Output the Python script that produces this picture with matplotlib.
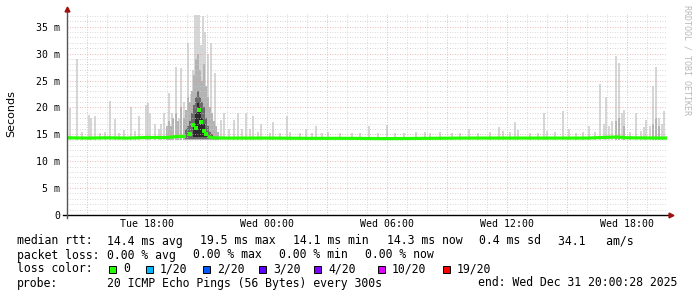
import matplotlib.pyplot as plt
from matplotlib.patches import Rectangle

# time axis: hours after Tue Dec 30 2025 14:00, values in ms
spike_h = [0.15, 0.5, 0.75, 1.1, 1.2, 1.4, 1.65, 1.9, 2.15, 2.4, 2.6, 2.85, 3.2, 3.4, 3.6,
           3.95, 4.05, 4.15, 4.4, 4.6, 4.7, 4.85, 5.1, 5.25, 5.45, 5.6, 5.7, 5.85, 6.05, 6.2,
           6.3, 6.4, 6.5, 6.6, 6.7, 6.8, 6.9, 7.05, 7.2, 7.4, 7.55, 7.7, 7.85, 8.1, 8.35,
           8.55, 8.75, 8.95, 9.15, 9.3, 9.55, 9.7, 10.15, 10.3, 10.65, 11.0, 11.15, 11.65,
           11.95, 12.25, 12.45, 12.75, 13.05, 13.65, 14.25, 14.65, 15.1, 15.55, 16.0, 16.4,
           16.85, 17.45, 17.9, 18.15, 18.65, 19.25, 19.65, 20.1, 20.55, 21.15, 21.6, 21.8,
           22.15, 22.4, 22.55, 23.15, 23.55, 23.85, 24.0, 24.4, 24.8, 25.1, 25.45, 25.8,
           26.1, 26.4, 26.65, 26.85, 26.95, 27.1, 27.25, 27.45, 27.6, 27.75, 27.85, 28.15,
           28.45, 28.7, 28.85, 28.95, 29.15, 29.3, 29.45, 29.6, 29.75, 29.85]
spike_top = [19.9, 29.0, 15.5, 18.6, 18.0, 18.4, 15.3, 15.5, 21.2, 17.8, 15.2, 15.8, 20.1, 15.6, 18.4,
             20.5, 20.8, 19.0, 17.0, 16.0, 17.0, 19.0, 22.7, 19.0, 27.5, 18.0, 27.3, 21.0, 32.0, 22.5,
             27.0, 37.2, 37.2, 37.2, 31.6, 37.0, 34.0, 30.0, 32.0, 26.4, 15.5, 17.6, 19.0, 16.0, 17.6,
             19.0, 16.0, 19.0, 16.0, 18.4, 15.5, 17.0, 15.3, 17.3, 15.2, 18.4, 15.5, 15.2,
             16.0, 15.2, 16.5, 15.3, 15.5, 15.2, 15.2, 15.3, 16.6, 15.2, 16.7, 15.3,
             15.2, 15.4, 15.5, 15.3, 15.4, 15.2, 15.2, 15.9, 15.3, 15.4, 16.4, 15.6,
             15.4, 17.2, 15.8, 15.3, 15.3, 18.9, 15.6, 15.4, 19.4, 16.0, 15.3, 15.4,
             16.6, 15.5, 24.3, 17.0, 22.0, 16.5, 17.5, 29.5, 28.2, 19.0, 19.5, 15.5,
             19.0, 15.6, 16.4, 17.7, 16.5, 24.0, 27.5, 18.0, 17.0, 19.4]

mid_h = [5.0, 5.1, 5.2, 5.3, 5.45, 5.55, 5.7, 5.85, 5.95, 6.05, 6.15, 6.25, 6.35, 6.45, 6.55,
         6.65, 6.75, 6.85, 6.95, 7.05, 7.15, 7.25, 7.35, 7.45, 7.55,
         27.45, 27.6, 27.85, 29.3, 29.45, 29.6]
mid_top = [16.5, 17.5, 16.5, 18.0, 19.0, 17.5, 20.0, 18.0, 19.5, 22.0, 21.0, 23.0, 26.0, 29.0, 30.0,
           27.0, 25.0, 28.0, 24.0, 22.0, 20.0, 19.0, 17.5, 16.5, 15.5,
           17.5, 18.0, 16.5, 17.0, 18.0, 16.5]

dark_h = [5.95, 6.05, 6.15, 6.25, 6.35, 6.45, 6.55, 6.65, 6.75, 6.85, 6.95, 7.05, 7.15, 7.25]
dark_top = [16.0, 16.5, 17.5, 19.0, 20.5, 22.0, 23.0, 22.0, 21.0, 20.0, 18.0, 16.5, 15.5, 15.0]

core_h = [6.35, 6.45, 6.55, 6.65, 6.75, 6.85, 6.95]
core_top = [17.0, 19.0, 21.0, 20.0, 18.0, 17.0, 15.5]

med_h = [0, 1, 2, 3, 4, 5, 5.5, 5.95, 6.15, 6.3, 6.45, 6.6, 6.7, 6.85, 6.95, 7.05, 7.25,
         8, 10, 12, 14, 16, 18, 20, 22, 24, 26, 27.5, 28, 30]
med_v = [14.35, 14.3, 14.35, 14.3, 14.4, 14.4, 14.6, 14.6, 15.0, 16.7, 16.1, 19.5, 17.2, 15.7, 15.0,
         14.6, 14.35, 14.3, 14.3, 14.25, 14.25, 14.2, 14.25, 14.3, 14.3, 14.3, 14.3, 14.5, 14.35, 14.3]

xlabel_h = [4, 10, 16, 22, 28]
xlabels = ['Tue 18:00', 'Wed 00:00', 'Wed 06:00', 'Wed 12:00', 'Wed 18:00']
ylabel_v = [0, 5, 10, 15, 20, 25, 30, 35]
ylabels = ['0', '5 m', '10 m', '15 m', '20 m', '25 m', '30 m', '35 m']

loss_names = ['0', '1/20', '2/20', '3/20', '4/20', '10/20', '19/20']
loss_colors = ['#26ff00', '#00b8ff', '#0059ff', '#5e00ff', '#7e00ff', '#dd00ff', '#ff0000']

W, H = 697, 297
mono = 'DejaVu Sans Mono'
fig = plt.figure(figsize=(W / 100, H / 100), dpi=100)
ax = fig.add_axes([67 / W, 82 / H, 600 / W, 202 / H])
ax.set_xlim(0, 30)
ax.set_ylim(0, 37.55)

# smoke
bw = 0.11
ax.bar(spike_h, [t - 14.0 for t in spike_top], bottom=14.0, width=bw, color='#d6d6d6', zorder=2)
ax.bar(mid_h, [t - 14.0 for t in mid_top], bottom=14.0, width=0.1, color='#b4b4b4', zorder=3)
ax.bar(dark_h, [t - 14.2 for t in dark_top], bottom=14.2, width=0.1, color='#6a6a6a', zorder=4)
ax.bar(core_h, [t - 14.5 for t in core_top], bottom=14.5, width=0.1, color='#2a2a2a', zorder=5)

# grid
for h in range(31):
    col = '#e6a0a0' if h % 3 == 1 else '#cccccc'
    ax.axvline(h, color=col, lw=0.6, ls=(0, (1, 2)), zorder=6)
for v in range(1, 38):
    col = '#e6a0a0' if v % 5 == 0 else '#cccccc'
    ax.axhline(v, color=col, lw=0.6, ls=(0, (1, 2)), zorder=6)

# median line
green = loss_colors[0]
left = [i for i, h in enumerate(med_h) if h <= 5.95]
right = [i for i, h in enumerate(med_h) if h >= 7.05]
mid = [i for i, h in enumerate(med_h) if 5.95 < h < 7.05]
for idx in (left, right):
    ax.plot([med_h[i] for i in idx], [med_v[i] for i in idx], color=green, lw=2.3,
            solid_capstyle='butt', zorder=8)
ax.plot([med_h[i] for i in mid], [med_v[i] for i in mid], 's', color=green, ms=2.4,
        mew=0, zorder=8)

# axes
for s in ax.spines.values():
    s.set_visible(False)
ax.plot([-4 / 600, 603 / 600], [0, 0], transform=ax.transAxes, color='black', lw=1,
        clip_on=False, zorder=9)
ax.plot([0, 0], [-3 / 202, 205 / 202], transform=ax.transAxes, color='#555555', lw=1,
        clip_on=False, zorder=9)
ax.plot([604 / 600], [0], '>', transform=ax.transAxes, color='#a01010', ms=3.5,
        clip_on=False, zorder=10)
ax.plot([0], [206 / 202], '^', transform=ax.transAxes, color='#a01010', ms=3.5,
        clip_on=False, zorder=10)

ax.set_xticks(xlabel_h)
ax.set_xticklabels(xlabels, fontfamily=mono, fontsize=7.1)
ax.set_yticks(ylabel_v)
ax.set_yticklabels(ylabels, fontfamily=mono, fontsize=7.1)
ax.tick_params(axis='x', length=0, pad=3)
ax.tick_params(axis='y', length=0, pad=5)

fig.text(11 / W, 1 - 114 / H, 'Seconds', rotation=90, ha='center', va='center', fontsize=8)
fig.text(687 / W, 1 - 5 / H, 'RRDTOOL / TOBI OETIKER', rotation=270, ha='center', va='top',
         fontfamily=mono, fontsize=6, color='#b8b8b8')

# legend lines
def t(x, y, s):
    fig.text(x / W, 1 - y / H, s, ha='left', va='center', fontfamily=mono, fontsize=8.3)

t(16.7, 241, 'median rtt:')
t(107.3, 241, '14.4 ms avg')
t(200, 241, '19.5 ms max')
t(292.7, 241, '14.1 ms min')
t(387, 241, '14.3 ms now')
t(479.3, 241, '0.4 ms sd')
t(558, 241, '34.1   am/s')

t(16.7, 255, 'packet loss:')
t(107, 255, '0.00 % avg')
t(193.3, 255, '0.00 % max')
t(279.3, 255, '0.00 % min')
t(365, 255, '0.00 % now')

t(16.7, 269, 'loss color:')
sq_x = [109, 146, 203, 259, 314, 378, 443]
for sx, name, col in zip(sq_x, loss_names, loss_colors):
    fig.add_artist(Rectangle((sx / W, 1 - 272.5 / H), 7 / W, 7 / H, transform=fig.transFigure,
                             facecolor=col, edgecolor='black', lw=0.7))
    t(sx + 14, 269, name)

t(16.7, 283, 'probe:')
t(107, 283, '20 ICMP Echo Pings (56 Bytes) every 300s')
t(478.3, 283, 'end: Wed Dec 31 20:00:28 2025')

fig.savefig('out.png', dpi=100)
